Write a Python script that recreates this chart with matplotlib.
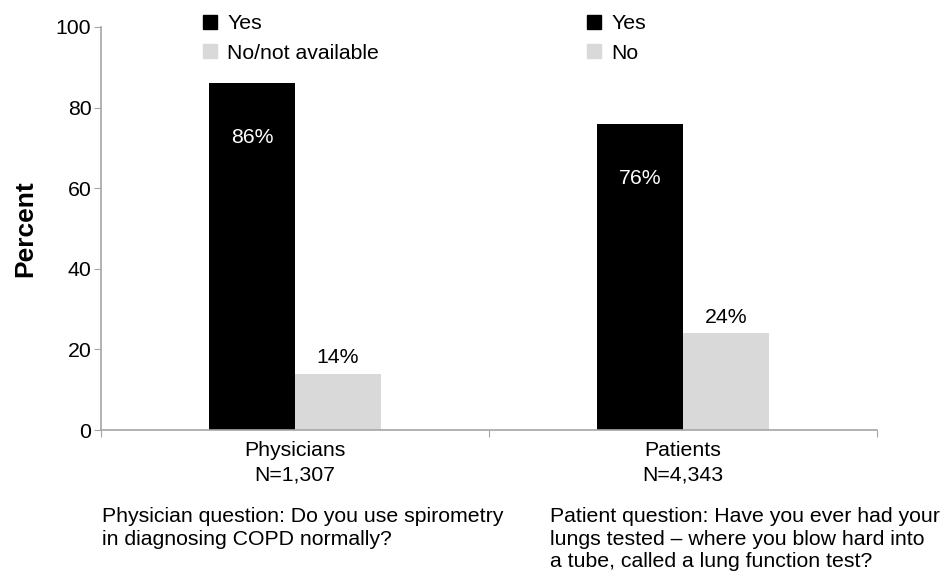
import matplotlib
matplotlib.use("Agg")
import matplotlib.pyplot as plt
from matplotlib.lines import Line2D

plt.rcParams['font.family'] = ['Liberation Sans', 'DejaVu Sans']

categories = ["Physicians\nN=1,307", "Patients\nN=4,343"]
yes_values = [86, 76]
no_values = [14, 24]
yes_labels = ["86%", "76%"]
no_labels = ["14%", "24%"]
legend1_labels = ["Yes", "No/not available"]
legend2_labels = ["Yes", "No"]
questions = ["Physician question: Do you use spirometry\nin diagnosing COPD normally?",
             "Patient question: Have you ever had your\nlungs tested \u2013 where you blow hard into\na tube, called a lung function test?"]
yticks = [0, 20, 40, 60, 80, 100]

BLACK = "#000000"
GRAY = "#d9d9d9"
AX_COL = "#a6a6a6"
FS = 15.3

fig = plt.figure(figsize=(9.43, 5.74), dpi=100)
ax = fig.add_axes([101/943, 1-430/574, 776/943, 403/574])

w = 0.222
xs = list(range(len(categories)))
ax.bar([x - w/2 for x in xs], yes_values, width=w, color=BLACK)
ax.bar([x + w/2 for x in xs], no_values, width=w, color=GRAY)

for x, v, lab in zip(xs, yes_values, yes_labels):
    ax.text(x - w/2, v - 13.5, lab, color="white", ha="center", va="center", fontsize=FS)
for x, v, lab in zip(xs, no_values, no_labels):
    ax.text(x + w/2, v + 4, lab, color="black", ha="center", va="center", fontsize=FS)

ax.set_xlim(-0.5, len(categories) - 0.5)
ax.set_ylim(0, 100)
ax.set_yticks(yticks)
ax.set_yticklabels([str(t) for t in yticks], fontsize=FS)
ax.set_xticks([-0.5, 0.5, 1.5])
ax.set_xticklabels([])
ax.set_xticks(xs, minor=True)
ax.set_xticklabels(categories, minor=True, fontsize=FS)
for lab in ax.get_xticklabels(minor=True):
    lab.set_linespacing(1.36)
ax.tick_params(axis='x', which='minor', length=0, pad=8)
ax.tick_params(axis='x', which='major', length=5, color=AX_COL, direction='out')
ax.tick_params(axis='y', length=5, color=AX_COL, direction='out', pad=2)
for s in ['top', 'right']:
    ax.spines[s].set_visible(False)
for s in ['left', 'bottom']:
    ax.spines[s].set_color(AX_COL)
    ax.spines[s].set_linewidth(1.2)

ax.set_ylabel("Percent", fontsize=19, fontweight='bold', labelpad=13)

def handles(labels):
    return [Line2D([], [], marker='s', linestyle='none', markersize=9.5, color=c)
            for c in (BLACK, GRAY)]

leg_kw = dict(loc='upper left', bbox_transform=fig.transFigure, frameon=False,
              fontsize=FS, handlelength=0.7, handletextpad=0.45,
              labelspacing=0.5, borderpad=0, borderaxespad=0)
leg1 = ax.legend(handles(legend1_labels), legend1_labels,
                 bbox_to_anchor=(203/943, 1 - 14/574), **leg_kw)
ax.add_artist(leg1)
ax.legend(handles(legend2_labels), legend2_labels,
          bbox_to_anchor=(587/943, 1 - 14/574), **leg_kw)

fig.text(102/943, 1 - 507/574, questions[0], fontsize=FS, va='top', ha='left', linespacing=1.24)
fig.text(550/943, 1 - 507/574, questions[1], fontsize=FS, va='top', ha='left', linespacing=1.24)

fig.savefig("out.png", dpi=100)
